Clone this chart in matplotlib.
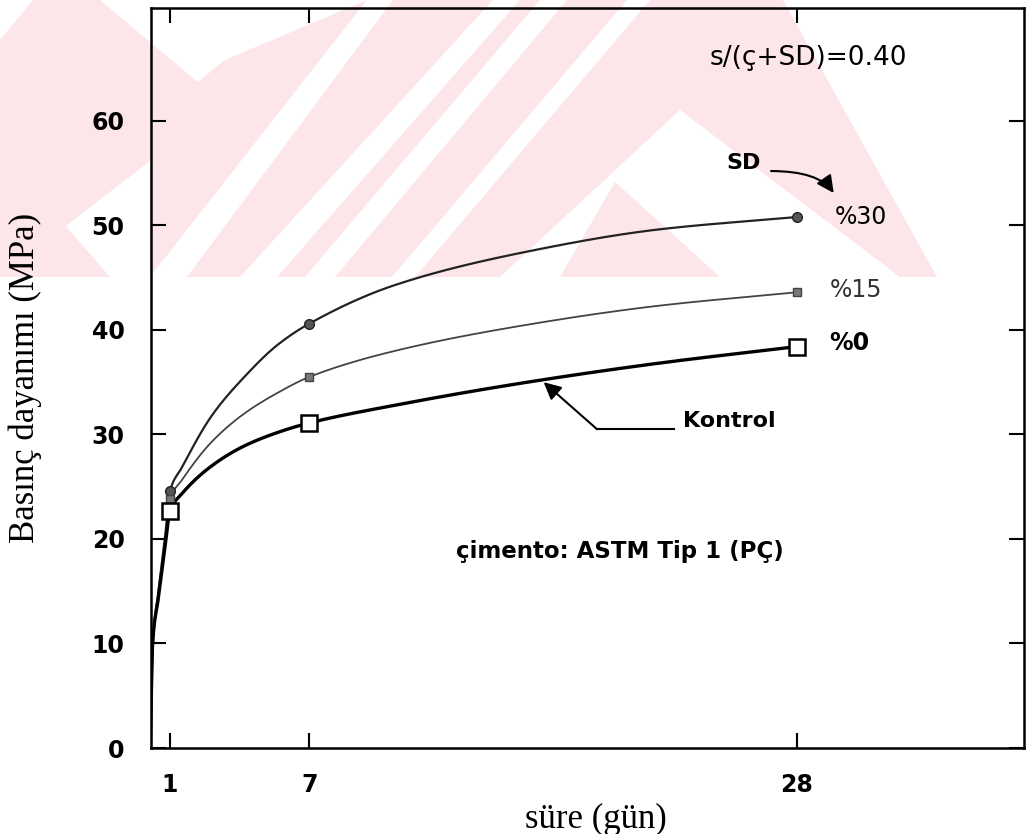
import numpy as np
import matplotlib.pyplot as plt
from matplotlib.patches import Polygon

# Deney yasi (gun) ve basinc dayanimi (MPa), isaretli noktalar
gun = [1, 7, 28]
kontrol = [22.7, 31.1, 38.4]
sd15 = [23.8, 35.5, 43.6]
sd30 = [24.6, 40.6, 50.8]

# egrilerin resimden okunan ara noktalari
egri_t = [0.15, 0.25, 0.5, 0.8, 1, 1.5, 2.8, 4.2, 5.65, 7, 10.7, 16.4, 22, 28]
egri_kontrol = [0, 10, 14.4, 19.5, 22.7, 24.3, 27.0, 28.9, 30.2, 31.1, 32.8, 35.0, 36.8, 38.4]
egri_sd15 = [0, 10, 14.6, 19.8, 23.8, 25.6, 29.3, 32.0, 34.0, 35.5, 38.0, 40.5, 42.3, 43.6]
egri_sd30 = [0, 10, 15.0, 20.5, 24.6, 26.8, 31.8, 35.5, 38.6, 40.6, 44.3, 47.5, 49.6, 50.8]

y_ticks = [0, 10, 20, 30, 40, 50, 60]


def monoton_egri(x, y, n=600):
    # Fritsch-Carlson monotone cubic, only for drawing a smooth line
    x = np.asarray(x, float)
    y = np.asarray(y, float)
    h = np.diff(x)
    d = np.diff(y) / h
    m = np.zeros_like(y)
    m[0] = d[0]
    m[-1] = d[-1]
    for i in range(1, len(x) - 1):
        if d[i - 1] * d[i] > 0:
            w1 = 2 * h[i] + h[i - 1]
            w2 = h[i] + 2 * h[i - 1]
            m[i] = (w1 + w2) / (w1 / d[i - 1] + w2 / d[i])
    xs = np.linspace(x[0], x[-1], n)
    k = np.clip(np.searchsorted(x, xs) - 1, 0, len(x) - 2)
    t = (xs - x[k]) / h[k]
    h00 = 2 * t**3 - 3 * t**2 + 1
    h10 = t**3 - 2 * t**2 + t
    h01 = -2 * t**3 + 3 * t**2
    h11 = t**3 - t**2
    ys = h00 * y[k] + h10 * h[k] * m[k] + h01 * y[k + 1] + h11 * h[k] * m[k + 1]
    return xs, ys


fig = plt.figure(figsize=(10.31, 8.34), dpi=100)
ax = fig.add_axes([151 / 1031, 86 / 834, 873 / 1031, 740 / 834])
ax.patch.set_alpha(0)

# soluk pembe filigran (taranmis sayfadaki)
def px(points):
    return [(x / 1031, 1 - y / 834) for x, y in points]

pembe = '#fde6ea'
filigran = [
    ([(0, 40), (33, 0), (100, 0), (213, 95), (190, 130), (0, 277)], pembe),
    ([(0, 277), (0, 150), (110, 277)], pembe),
    ([(150, 277), (150, 120), (225, 60), (367, 0), (150, 277)], pembe),
    ([(187, 277), (393, 0), (493, 0), (240, 277)], pembe),
    ([(277, 277), (520, 0), (540, 0), (305, 277)], pembe),
    ([(335, 277), (567, 0), (627, 0), (392, 277)], pembe),
    ([(415, 277), (650, 0), (783, 0), (937, 277), (900, 277), (680, 110), (500, 277)], pembe),
    ([(560, 277), (615, 182), (720, 277)], pembe),
]
for pts, renk in filigran:
    ax.add_patch(Polygon(px(pts), closed=True, transform=fig.transFigure,
                         facecolor=renk, edgecolor='none', clip_on=False, zorder=0))

# egriler
xs, ys = monoton_egri(egri_t, egri_sd30)
ax.plot(xs, ys, color='#222222', lw=1.6, zorder=3)
xs, ys = monoton_egri(egri_t, egri_sd15)
ax.plot(xs, ys, color='#444444', lw=1.3, zorder=3)
xs, ys = monoton_egri(egri_t, egri_kontrol)
ax.plot(xs, ys, color='black', lw=2.4, zorder=3)

ax.plot(gun, sd30, 'o', ms=7, mfc='#555555', mec='#222222', mew=1, zorder=4)
ax.plot(gun, sd15, 's', ms=6, mfc='#777777', mec='#444444', mew=1, zorder=4)
ax.plot(gun, kontrol, 's', ms=11, mfc='white', mec='black', mew=1.8, zorder=5)

ax.set_xlim(0.18, 37.8)
ax.set_ylim(0, 70.8)
ax.set_xticks(gun)
ax.set_yticks(y_ticks)
ax.tick_params(direction='in', length=11, width=1.5, top=True, right=True,
               labelsize=17)
ax.tick_params(axis='y', pad=19)
ax.tick_params(axis='x', pad=18)
for lab in ax.get_xticklabels() + ax.get_yticklabels():
    lab.set_fontfamily('DejaVu Sans')
    lab.set_fontweight('bold')
for sp in ax.spines.values():
    sp.set_linewidth(1.8)

ax.set_xlabel('süre (gün)', fontfamily='Liberation Serif', fontsize=25)
ax.set_ylabel('Basınç dayanımı (MPa)', fontfamily='Liberation Serif', fontsize=25)
ax.xaxis.set_label_coords(0.51, -0.074)
ax.yaxis.set_label_coords(-0.125, 0.5)

yazi = dict(fontfamily='DejaVu Sans')
ax.text(28.5, 66.0, 's/(ç+SD)=0.40', ha='center', va='center', fontsize=19,
        fontweight='medium', **yazi)
ax.text(25.7, 56.0, 'SD', ha='center', va='center', fontsize=16,
        fontweight='bold', **yazi)
ax.text(29.66, 50.8, '%30', ha='left', va='center', fontsize=17, **yazi)
ax.text(29.44, 43.8, '%15', ha='left', va='center', fontsize=17,
        color='#333333', **yazi)
ax.text(29.4, 38.75, '%0', ha='left', va='center', fontsize=17,
        fontweight='bold', **yazi)
ax.text(23.1, 31.3, 'Kontrol', ha='left', va='center', fontsize=16,
        fontweight='bold', **yazi)
ax.text(20.4, 18.8, 'çimento: ASTM Tip 1 (PÇ)', ha='center', va='center',
        fontsize=16.5, fontweight='bold', **yazi)

ax.annotate('', xy=(29.6, 53.1), xytext=(26.9, 55.2),
            arrowprops=dict(arrowstyle='-|>', color='black', lw=1.5,
                            mutation_scale=26, shrinkA=0, shrinkB=0,
                            connectionstyle='angle3,angleA=0,angleB=-55'))
ax.plot([19.4, 22.7], [30.5, 30.5], color='black', lw=1.5)
ax.annotate('', xy=(17.1, 35.0), xytext=(19.4, 30.5),
            arrowprops=dict(arrowstyle='-|>', color='black', lw=1.5,
                            mutation_scale=26, shrinkA=0, shrinkB=0))

fig.savefig('out.png', dpi=100)
